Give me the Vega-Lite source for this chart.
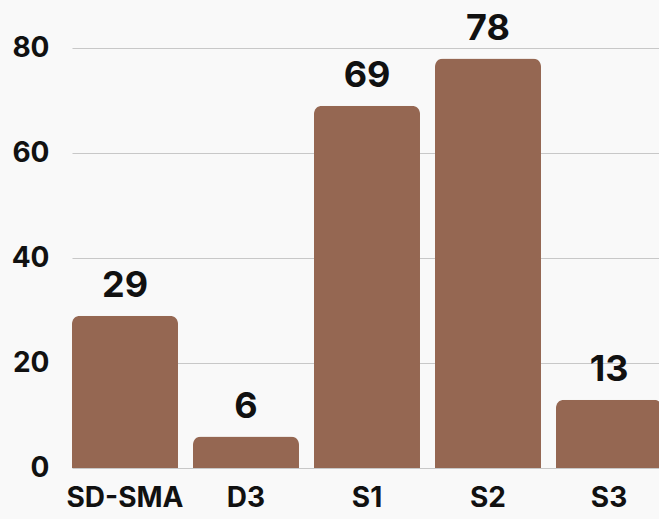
{
  "$schema": "https://vega.github.io/schema/vega-lite/v6.json",
  "width": 590,
  "height": 420,
  "autosize": {"type": "none"},
  "padding": {"left": 72, "top": 48, "right": 0, "bottom": 51},
  "background": "#f9f9f9",
  "config": {"view": {"stroke": null}},
  "data": {"values": [
    {"group": "SD-SMA", "value": 29},
    {"group": "D3", "value": 6},
    {"group": "S1", "value": 69},
    {"group": "S2", "value": 78},
    {"group": "S3", "value": 13}
  ]},
  "encoding": {
    "x": {"field": "group", "type": "nominal", "sort": null,
      "scale": {"paddingInner": 0.124, "paddingOuter": 0},
      "axis": {"title": null, "labelAngle": 0, "domain": false, "ticks": false,
        "labelFont": "Inter", "labelFontWeight": "bold", "labelFontSize": 28, "labelColor": "#111111",
        "labelPadding": 16, "labelBaseline": "top"}},
    "y": {"field": "value", "type": "quantitative",
      "scale": {"domain": [0, 80], "nice": false},
      "axis": {"title": null, "values": [0, 20, 40, 60, 80], "domain": false, "ticks": false,
        "gridColor": "#c8c8c8", "gridWidth": 1.2,
        "labelFont": "Inter", "labelFontWeight": "bold", "labelFontSize": 28, "labelColor": "#111111",
        "labelPadding": 23}}
  },
  "layer": [
    {"mark": {"type": "bar", "color": "#956752", "cornerRadiusTopLeft": 8, "cornerRadiusTopRight": 8}},
    {"mark": {"type": "text", "font": "Inter", "fontWeight": "bold", "fontSize": 36, "color": "#111111", "baseline": "alphabetic", "dy": -19},
     "encoding": {"text": {"field": "value", "type": "quantitative"}}}
  ]
}
